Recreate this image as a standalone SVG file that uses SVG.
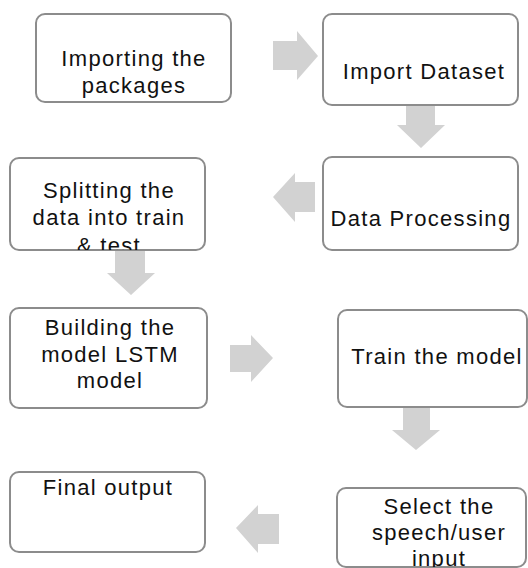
<svg xmlns="http://www.w3.org/2000/svg" width="528" height="568" viewBox="0 0 528 568">
<style>
.box{fill:#ffffff;stroke:#8c8c8c;stroke-width:2}
.arr{fill:#d2d2d2;stroke:none}
.t{font-family:"Liberation Sans",Arial,sans-serif;font-size:22px;fill:#111111;text-anchor:middle;letter-spacing:1.3px}
</style>
<defs>
<clipPath id="c3"><rect x="10" y="158" width="195" height="92"/></clipPath>
<clipPath id="c8"><rect x="337" y="488" width="189" height="79"/></clipPath>
</defs>
<rect width="528" height="568" fill="#ffffff"/>
<g id="connectors">
<polygon class="arr" points="273,41 297,41 297,31 318,56 297,80 297,70 273,70"/>
<polygon class="arr" points="406,105 435,105 435,125 445,125 421,148 397,125 406,125"/>
<polygon class="arr" points="315,182 295,182 295,173 273,197 295,222 295,212 315,212"/>
<polygon class="arr" points="115,250 145,250 145,273 155,273 131,295 107,273 115,273"/>
<polygon class="arr" points="230,345 251,345 251,335 273,358 251,382 251,372 230,372"/>
<polygon class="arr" points="403,408 430,408 430,430 440,430 416,450 392,430 403,430"/>
<polygon class="arr" points="279,514 258,514 258,505 236,528 258,553 258,544 279,544"/>
</g>
<g id="n1">
<rect class="box" x="36" y="14" width="195" height="88" rx="9"/>
<text class="t" x="134" y="66">Importing the</text>
<text class="t" x="134" y="93">packages</text>
</g>
<g id="n2">
<rect class="box" x="323" y="14" width="195" height="91" rx="9"/>
<text class="t" x="424" y="79">Import Dataset</text>
</g>
<g id="n3">
<rect class="box" x="10" y="158" width="195" height="92" rx="9"/>
<g clip-path="url(#c3)">
<text class="t" x="109" y="198">Splitting the</text>
<text class="t" x="109" y="225">data into train</text>
<text class="t" x="109" y="253">&amp; test</text>
</g>
</g>
<g id="n4">
<rect class="box" x="323" y="157" width="195" height="93" rx="9"/>
<text class="t" x="421" y="226">Data Processing</text>
</g>
<g id="n5">
<rect class="box" x="10" y="308" width="197" height="100" rx="9"/>
<text class="t" x="110" y="335">Building the</text>
<text class="t" x="110" y="362">model LSTM</text>
<text class="t" x="110" y="388">model</text>
</g>
<g id="n6">
<rect class="box" x="338" y="310" width="189" height="97" rx="9"/>
<text class="t" x="437" y="364">Train the model</text>
</g>
<g id="n7">
<rect class="box" x="10" y="472" width="195" height="80" rx="9"/>
<text class="t" x="108" y="495">Final output</text>
</g>
<g id="n8">
<rect class="box" x="337" y="488" width="189" height="79" rx="9"/>
<g clip-path="url(#c8)">
<text class="t" x="439" y="514">Select the</text>
<text class="t" x="439" y="540">speech/user</text>
<text class="t" x="439" y="566">input</text>
</g>
</g>
</svg>
